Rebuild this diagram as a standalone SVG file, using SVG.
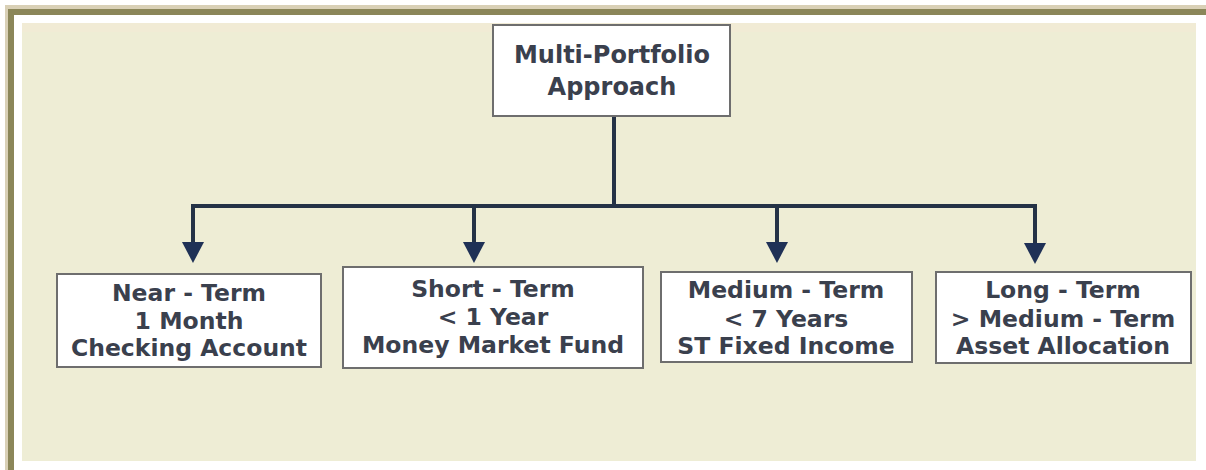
<svg xmlns="http://www.w3.org/2000/svg" width="1206" height="470" viewBox="0 0 1206 470">
  <style>
    .box { fill: #ffffff; stroke: #6e6e6e; stroke-width: 2; }
    .lbl { font-family: "DejaVu Sans", Verdana, sans-serif; font-weight: bold; fill: #3a404d; text-anchor: middle; }
    .top { font-size: 24px; }
    .sub { font-size: 23.5px; }
    .wire { fill: none; stroke: #243246; stroke-width: 4; stroke-linejoin: miter; stroke-linecap: butt; }
  </style>
  <defs>
    <marker id="arrow" markerUnits="userSpaceOnUse" markerWidth="22" markerHeight="22" viewBox="0 0 21 22" refX="0" refY="11" orient="auto">
      <path d="M0,0 L21,11 L0,22 z" fill="#1f3156"/>
    </marker>
  </defs>

  <!-- frame -->
  <rect x="0" y="0" width="1206" height="470" fill="#ffffff"/>
  <rect x="5" y="5" width="1201" height="4" fill="#d9d0b6"/>
  <rect x="5" y="5" width="3" height="465" fill="#d9d0b6"/>
  <rect x="8" y="9" width="1198" height="6" fill="#8b8659"/>
  <rect x="8" y="9" width="6" height="461" fill="#8b8659"/>
  <rect x="22" y="23" width="1174" height="438" fill="#eeedd5"/>
  <rect x="22" y="23" width="1174" height="9" fill="#f1ebd5"/>

  <!-- connectors -->
  <g id="connectors">
    <path class="wire" d="M614,116 V206"/>
    <path class="wire" d="M193,206 H1035"/>
    <path class="wire" d="M193,204 V242" marker-end="url(#arrow)"/>
    <path class="wire" d="M474,204 V242" marker-end="url(#arrow)"/>
    <path class="wire" d="M777,204 V242" marker-end="url(#arrow)"/>
    <path class="wire" d="M1035,204 V243" marker-end="url(#arrow)"/>
  </g>

  <g id="root">
    <rect class="box" x="493" y="25" width="237" height="91"/>
    <text class="lbl top" x="612" y="63">Multi-Portfolio</text>
    <text class="lbl top" x="612" y="95">Approach</text>
  </g>

  <g id="near-term">
    <rect class="box" x="57" y="274" width="264" height="93"/>
    <text class="lbl sub" x="189" y="301">Near - Term</text>
    <text class="lbl sub" x="189" y="329">1 Month</text>
    <text class="lbl sub" x="189" y="356">Checking Account</text>
  </g>

  <g id="short-term">
    <rect class="box" x="343" y="267" width="300" height="101"/>
    <text class="lbl sub" x="493" y="297">Short - Term</text>
    <text class="lbl sub" x="493" y="325">&lt; 1 Year</text>
    <text class="lbl sub" x="493" y="353">Money Market Fund</text>
  </g>

  <g id="medium-term">
    <rect class="box" x="661" y="272" width="251" height="90"/>
    <text class="lbl sub" x="786" y="298">Medium - Term</text>
    <text class="lbl sub" x="786" y="327">&lt; 7 Years</text>
    <text class="lbl sub" x="786" y="354">ST Fixed Income</text>
  </g>

  <g id="long-term">
    <rect class="box" x="936" y="272" width="255" height="91"/>
    <text class="lbl sub" x="1063" y="298">Long - Term</text>
    <text class="lbl sub" x="1063" y="327">&gt; Medium - Term</text>
    <text class="lbl sub" x="1063" y="354">Asset Allocation</text>
  </g>
</svg>
